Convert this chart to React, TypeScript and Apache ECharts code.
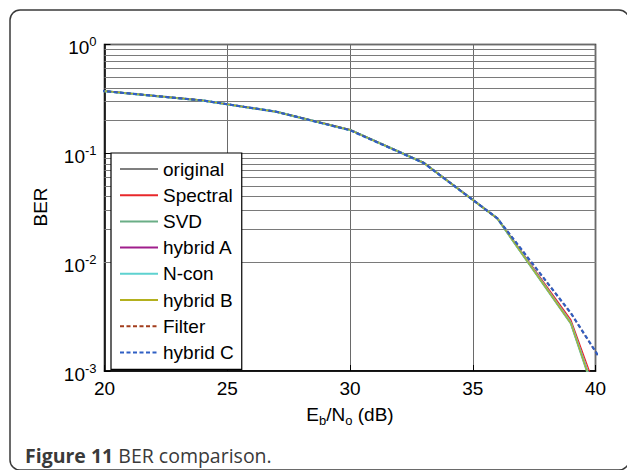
import React, { useEffect, useRef } from "react";
import * as echarts from "echarts";

const xValues = [18, 21, 24, 27, 30, 33, 36, 39, 42];
const original = [0.412, 0.355, 0.306, 0.241, 0.164, 0.082, 0.0253, 0.00277, 2.9e-5];
const spectral = [0.412, 0.355, 0.306, 0.242, 0.165, 0.0825, 0.0255, 0.00295, 3.9e-5];
const svd = [0.412, 0.355, 0.306, 0.241, 0.164, 0.082, 0.0252, 0.00272, 2.6e-5];
const hybridA = [0.412, 0.355, 0.306, 0.241, 0.164, 0.082, 0.0253, 0.00277, 2.9e-5];
const nCon = [0.412, 0.355, 0.306, 0.241, 0.164, 0.082, 0.0253, 0.00276, 2.8e-5];
const hybridB = [0.412, 0.355, 0.306, 0.241, 0.164, 0.082, 0.0252, 0.00274, 2.7e-5];
const filter = [0.412, 0.355, 0.306, 0.241, 0.164, 0.082, 0.0253, 0.00338, 2.95e-4];
const hybridC = [0.412, 0.355, 0.306, 0.241, 0.163, 0.0815, 0.0253, 0.0034, 3.0e-4];

const xTicks = [20, 25, 30, 35, 40];
const minorGrid = [
  0.2, 0.3, 0.4, 0.5, 0.6, 0.7, 0.8, 0.9,
  0.02, 0.03, 0.04, 0.05, 0.06, 0.07, 0.08, 0.09,
  0.002, 0.003, 0.004, 0.005, 0.006, 0.007, 0.008, 0.009,
];

const seriesDefs = [
  { name: "original", data: original, color: "#7f7f7f", width: 2, type: "solid" },
  { name: "Spectral", data: spectral, color: "#e8282b", width: 1.2, type: "solid" },
  { name: "SVD", data: svd, color: "#6aae86", width: 2, type: "solid" },
  { name: "hybrid A", data: hybridA, color: "#a01e8c", width: 1.2, type: "solid" },
  { name: "N-con", data: nCon, color: "#5ed2d0", width: 2, type: "solid" },
  { name: "hybrid B", data: hybridB, color: "#b3b01e", width: 1.2, type: "solid" },
  { name: "Filter", data: filter, color: "#a23d1c", width: 1.6, type: [4, 2.5] },
  { name: "hybrid C", data: hybridC, color: "#2f5fc4", width: 2.2, type: [4, 2.5] },
];

const FONT = "'Liberation Sans', Arial, sans-serif";
const CAPTION_FONT = "'Open Sans', 'Noto Sans', sans-serif";

export default function App() {
  const ref = useRef<HTMLDivElement>(null);
  useEffect(() => {
    if (!ref.current) return;
    const chart = echarts.init(ref.current, undefined, { renderer: "svg" });
    const series: any[] = seriesDefs.map((s) => ({
      name: s.name,
      type: "line",
      data: xValues.map((x, i) => [x, s.data[i]]),
      symbol: "none",
      showSymbol: false,
      clip: true,
      lineStyle: { color: s.color, width: s.width, type: s.type },
      itemStyle: { color: s.color },
      z: 3,
    }));
    series.unshift({
      name: "_grid",
      type: "line",
      data: [],
      silent: true,
      z: 1,
      markLine: {
        silent: true,
        z: 1,
        symbol: ["none", "none"],
        label: { show: false },
        lineStyle: { color: "#7a7a7a", width: 1, type: "solid" },
        data: minorGrid.map((v) => ({ yAxis: v })),
        animation: false,
      },
    });
    chart.setOption({
      animation: false,
      backgroundColor: "#fff",
      textStyle: { fontFamily: FONT },
      grid: {
        left: 104.5,
        right: 31.5,
        top: 44.5,
        bottom: 99,
        show: true,
        borderColor: "#000",
        borderWidth: 1.5,
        containLabel: false,
      },
      legend: {
        data: seriesDefs.map((s) => s.name),
        orient: "vertical",
        left: 111,
        top: 153,
        z: 20,
        itemWidth: 38,
        itemHeight: 14,
        itemGap: 6.2,
        padding: [6, 8, 7, 8],
        backgroundColor: "#fff",
        borderColor: "#000",
        borderWidth: 1.2,
        borderRadius: 0,
        textStyle: { fontSize: 19, color: "#000", fontFamily: FONT, lineHeight: 20 },
        itemStyle: { opacity: 0 },
      },
      xAxis: {
        type: "value",
        min: 20,
        max: 40,
        interval: 5,
        axisLine: { show: true, lineStyle: { color: "#000", width: 1.5 } },
        axisTick: { show: true, inside: true, length: 6, lineStyle: { color: "#000" } },
        axisLabel: {
          fontSize: 19,
          color: "#000",
          margin: 8,
          fontFamily: FONT,
          formatter: (v: number) => (xTicks.includes(v) ? String(v) : ""),
        },
        splitLine: { show: true, lineStyle: { color: "#6a6a6a", width: 1 } },
      },
      yAxis: {
        type: "log",
        logBase: 10,
        min: 0.001,
        max: 1,
        axisLine: { show: true, lineStyle: { color: "#000", width: 1.5 } },
        axisTick: { show: true, inside: true, length: 6, lineStyle: { color: "#000" } },
        axisLabel: {
          margin: 8,
          color: "#000",
          formatter: (v: number) => {
            const e = Math.round(Math.log10(v));
            return "{b|10}{s|" + e + "}";
          },
          rich: {
            b: { fontSize: 19, fontFamily: FONT, color: "#000", lineHeight: 22, padding: [6, 0, 0, 0] },
            s: { fontSize: 13, fontFamily: FONT, color: "#000", lineHeight: 14, padding: [0, 0, 6, 0] },
          },
        },
        splitLine: { show: true, lineStyle: { color: "#6a6a6a", width: 1 } },
      },
      graphic: [
        {
          type: "rect",
          shape: { x: 10, y: 10, width: 619, height: 460, r: 10 },
          style: { fill: "none", stroke: "#3a3a3a", lineWidth: 1.5 },
          z: 100,
          silent: true,
        },
        {
          type: "text",
          x: 40,
          y: 207,
          rotation: Math.PI / 2,
          style: {
            text: "BER",
            fontSize: 19,
            fontFamily: FONT,
            fill: "#000",
            align: "center",
            verticalAlign: "middle",
          },
        },
        {
          type: "text",
          x: 350,
          y: 414,
          style: {
            text: "E{sub|b}/N{sub|o} (dB)",
            fontSize: 19,
            fontFamily: FONT,
            fill: "#000",
            align: "center",
            verticalAlign: "middle",
            lineHeight: 22,
            rich: {
              sub: { fontSize: 13, fontFamily: FONT, fill: "#000", lineHeight: 14, padding: [12, 0, 0, 0] },
            },
          },
        },
        {
          type: "text",
          x: 25,
          y: 455,
          style: {
            text: "{bold|Figure 11} BER comparison.",
            fontSize: 19.5,
            fontFamily: CAPTION_FONT,
            fill: "#3a3a3a",
            align: "left",
            verticalAlign: "middle",
            rich: {
              bold: {
                fontSize: 19.5,
                fontWeight: "bold",
                fontFamily: CAPTION_FONT,
                fill: "#3a3a3a",
              },
            },
          },
        },
      ],
      series,
    });
    return () => chart.dispose();
  }, []);
  return (
    <div
      ref={ref}
      style={{ position: "fixed", left: 0, top: 0, width: 627, height: 470, background: "#fff" }}
    />
  );
}
